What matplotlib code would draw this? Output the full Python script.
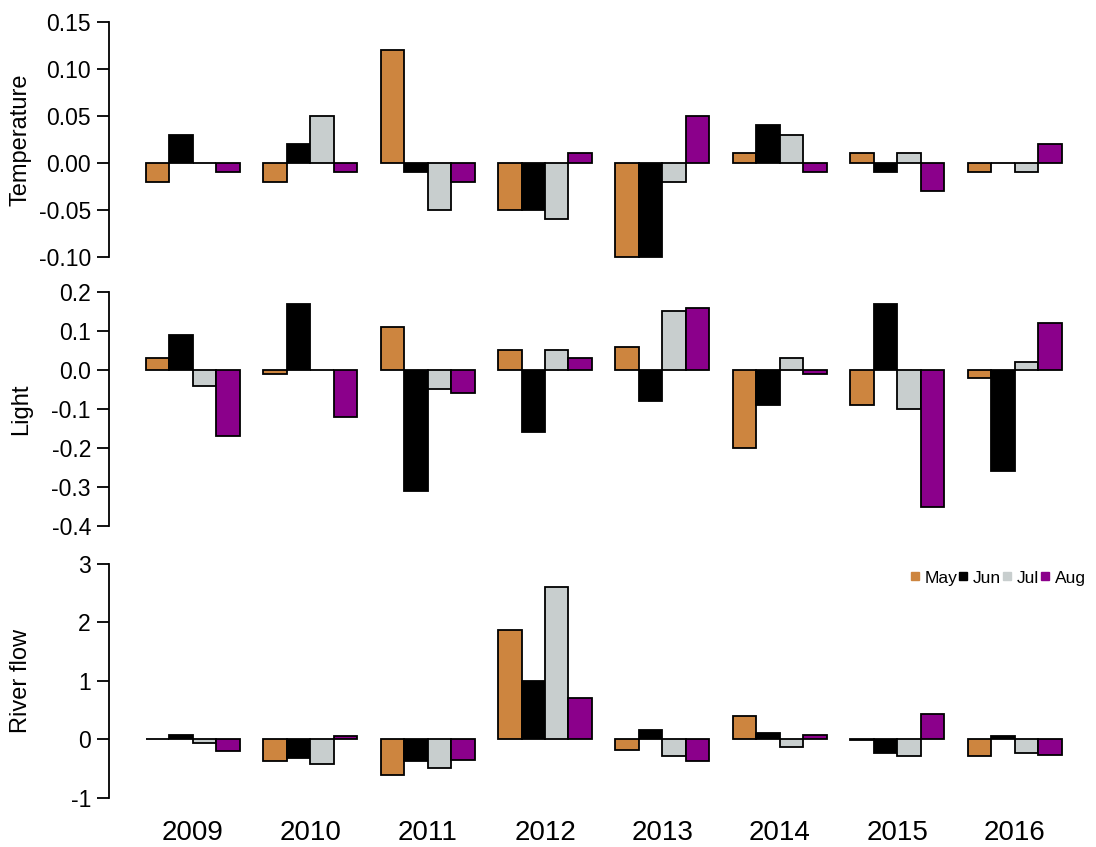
import matplotlib.pyplot as plt
import numpy as np
from matplotlib.lines import Line2D

plt.rcParams['font.family'] = ['Liberation Sans', 'DejaVu Sans']

years = ['2009', '2010', '2011', '2012', '2013', '2014', '2015', '2016']
months = ['May', 'Jun', 'Jul', 'Aug']
colors = ['#CD853F', '#000000', '#C8CECE', '#8B008B']

# anomalies, one list per month (May, Jun, Jul, Aug), one value per year
temp_may = [-0.02, -0.02, 0.12, -0.05, -0.10, 0.01, 0.01, -0.01]
temp_jun = [0.03, 0.02, -0.01, -0.05, -0.10, 0.04, -0.01, 0.00]
temp_jul = [0.00, 0.05, -0.05, -0.06, -0.02, 0.03, 0.01, -0.01]
temp_aug = [-0.01, -0.01, -0.02, 0.01, 0.05, -0.01, -0.03, 0.02]

light_may = [0.03, -0.01, 0.11, 0.05, 0.06, -0.20, -0.09, -0.02]
light_jun = [0.09, 0.17, -0.31, -0.16, -0.08, -0.09, 0.17, -0.26]
light_jul = [-0.04, 0.00, -0.05, 0.05, 0.15, 0.03, -0.10, 0.02]
light_aug = [-0.17, -0.12, -0.06, 0.03, 0.16, -0.01, -0.35, 0.12]

flow_may = [0.00, -0.38, -0.62, 1.87, -0.19, 0.39, -0.01, -0.28]
flow_jun = [0.08, -0.32, -0.38, 1.00, 0.16, 0.11, -0.24, 0.06]
flow_jul = [-0.07, -0.43, -0.50, 2.60, -0.28, -0.14, -0.28, -0.24]
flow_aug = [-0.20, 0.05, -0.35, 0.70, -0.37, 0.07, 0.43, -0.27]

panels = [
    ('Temperature', [temp_may, temp_jun, temp_jul, temp_aug],
     [-0.10, -0.05, 0.00, 0.05, 0.10, 0.15], '%.2f'),
    ('Light', [light_may, light_jun, light_jul, light_aug],
     [-0.4, -0.3, -0.2, -0.1, 0.0, 0.1, 0.2], '%.1f'),
    ('River flow', [flow_may, flow_jun, flow_jul, flow_aug],
     [-1, 0, 1, 2, 3], '%d'),
]

fig = plt.figure(figsize=(10.96, 8.47), dpi=100)
boxes = [[0.0995, 0.6858, 0.9027, 0.2993],
         [0.0995, 0.3679, 0.9027, 0.2985],
         [0.0995, 0.0472, 0.9027, 0.2980]]

# R barplot style layout: 1 unit gap before each group of 4 bars
group_start = np.arange(len(years)) * 5 + 1

for box, (label, series, ticks, fmt) in zip(boxes, panels):
    ax = fig.add_axes(box)
    for i, vals in enumerate(series):
        ax.bar(group_start + i, vals, width=1.0, align='edge',
               color=colors[i], edgecolor='black', linewidth=1.3)
    lo, hi = ticks[0], ticks[-1]
    pad = (hi - lo) * 0.04
    ax.set_ylim(lo - pad, hi + pad)
    ax.set_xlim(-0.56, 41.56)
    ax.set_yticks(ticks)
    ax.set_yticklabels([fmt % t for t in ticks])
    for s in ['top', 'right', 'bottom']:
        ax.spines[s].set_visible(False)
    ax.spines['left'].set_bounds(lo, hi)
    ax.spines['left'].set_linewidth(1.3)
    ax.tick_params(axis='y', labelsize=16.5, length=9, width=1.3, pad=4)
    ax.set_ylabel(label, fontsize=17, labelpad=6)
    ax.yaxis.set_label_coords(-0.078, 0.5)
    ax.set_xticks(group_start + 2)
    if label == 'River flow':
        ax.set_xticklabels(years, fontsize=20)
        ax.tick_params(axis='x', length=0, pad=9)
    else:
        ax.set_xticklabels([])
        ax.tick_params(axis='x', length=0)

handles = [Line2D([], [], marker='s', linestyle='none', markersize=5.5,
                  color=c) for c in colors]
fig.legend(handles, months, loc='center right', bbox_to_anchor=(1.0, 0.3176),
           ncol=4, frameon=False, fontsize=12.5, handlelength=0.5,
           handletextpad=0.3, columnspacing=0.1, borderaxespad=0.2)

fig.savefig('out.png', dpi=100)
